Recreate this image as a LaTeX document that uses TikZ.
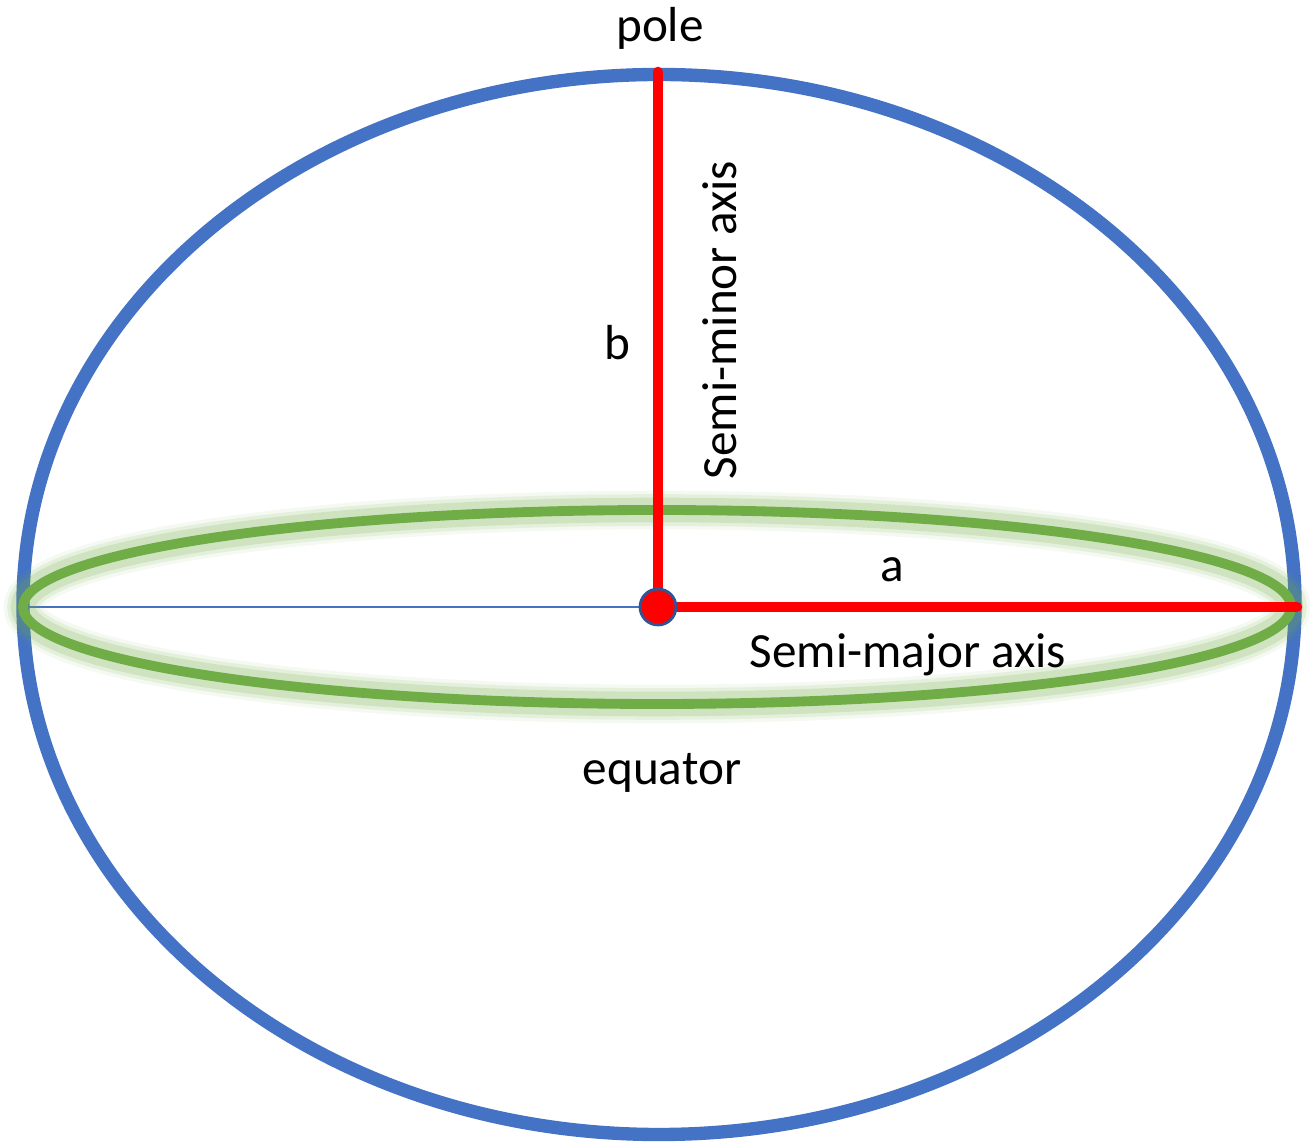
\documentclass[tikz,border=0pt]{standalone}
\usepackage{fontspec}
\setmainfont{Carlito}
\usepackage{xcolor}
\usetikzlibrary{positioning,calc}
\definecolor{rimblue}{HTML}{4472C4}
\definecolor{eqgreen}{HTML}{70AD47}
\definecolor{dotedge}{HTML}{2F5597}

\begin{document}
\begin{tikzpicture}[
  x=0.02cm,y=0.02cm,
  rim/.style={draw=rimblue,line width=7.6pt},
  ring/.style={draw=eqgreen,line width=5.6pt},
  glow/.style={draw=eqgreen,opacity=#1},
  axis/.style={draw=red,line width=6pt,line cap=round},
  every node/.style={font=\fontsize{28}{32}\selectfont,inner sep=0pt}
]
  \useasboundingbox (0,0) rectangle (1310,1145);
  \coordinate (centre) at (658,538);
  \coordinate (pole) at (658,1073);
  \coordinate (east) at (1297,538);
  \coordinate (west) at (23,538);
  % spheroid outline
  \draw[rim] (659,540.5) ellipse [x radius=636,y radius=530];
  \draw[rimblue,line width=1.1pt] (west) -- (centre);
  % equator with soft glow
  \foreach \w/\o in {22/0.08,18/0.12,14/0.18}
    \draw[glow=\o,line width=\w pt] (657,538) ellipse [x radius=634,y radius=97];
  \draw[ring] (657,538) ellipse [x radius=634,y radius=97];
  % semi-axes
  \draw[axis] (centre) -- (pole);
  \draw[axis] (centre) -- (east);
  \node[circle,fill=red,draw=dotedge,line width=1.6pt,minimum size=0.72cm] (dot) at (centre) {};
  % labels
  \node (poletxt) at (660,1117) {pole};
  \node (btxt) at (617,802) {b};
  \node[rotate=90] (minortxt) at (720,825) {Semi-minor axis};
  \node (atxt) at (892,575) {a};
  \node (majortxt) at (908,490) {Semi-major axis};
  \node (eqtxt) at (662,372) {equator};
\end{tikzpicture}
\end{document}
